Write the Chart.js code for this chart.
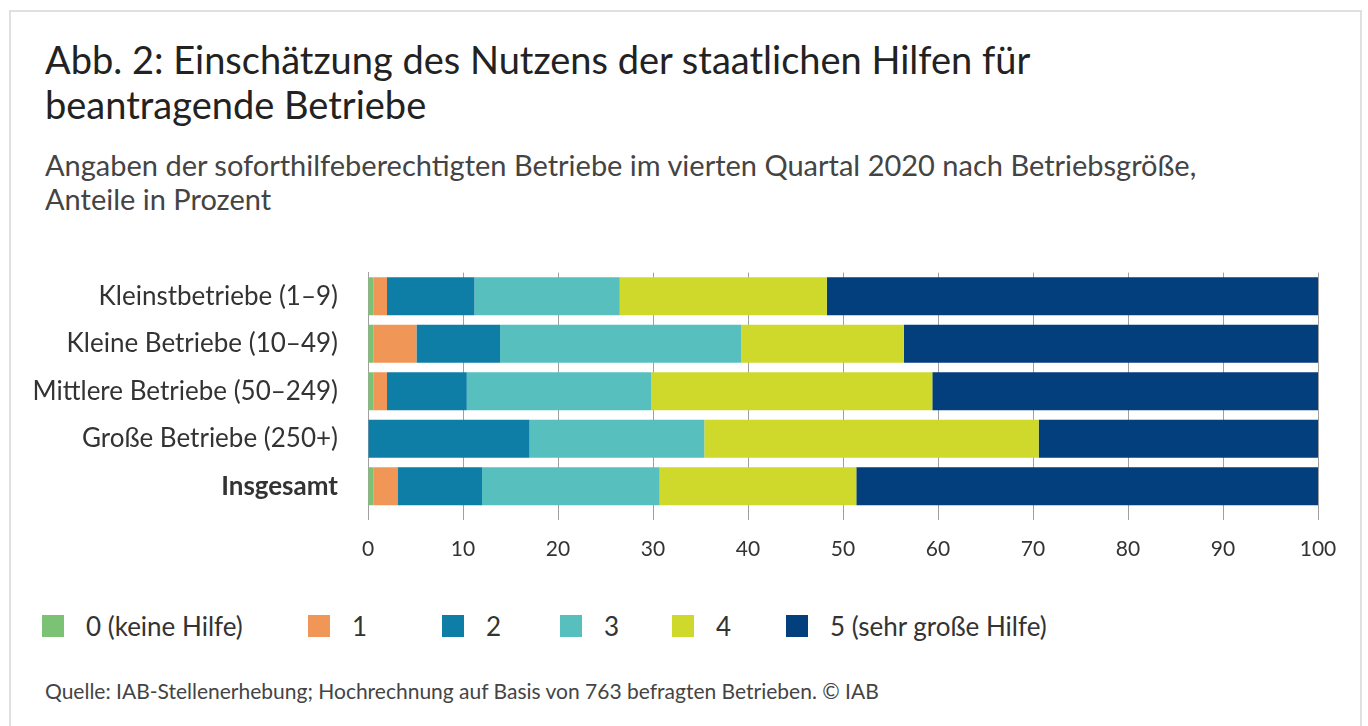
<!DOCTYPE html>
<html lang="de">
<head>
<meta charset="utf-8">
<title>Abb. 2: Einschätzung des Nutzens der staatlichen Hilfen</title>
<script src="https://cdn.jsdelivr.net/npm/chart.js@4.4.1/dist/chart.umd.min.js"></script>
<style>
  html, body { margin: 0; padding: 0; background: #fff; }
  body { width: 1368px; height: 726px; position: relative; overflow: hidden; font-family: Lato, "Noto Sans", sans-serif; color: #333; }
  #frame { position: absolute; left: 9px; top: 10px; width: 1353px; height: 740px; border: 2px solid #e0e0e0; box-sizing: border-box; }
  #title { position: absolute; left: 45px; top: 37px; font-size: 38px; line-height: 45px; color: #222; white-space: nowrap; }
  #subtitle { position: absolute; left: 45px; top: 148px; font-size: 29px; line-height: 34px; color: #444; white-space: nowrap; }
  #chartBox { position: absolute; left: 0; top: 227px; width: 1368px; height: 343px; }
  #legend { position: absolute; left: 42px; top: 611px; display: flex; font-size: 26px; color: #333; }
  .item { display: flex; align-items: center; height: 30px; }
  .box { width: 22px; height: 22px; margin-right: 22px; flex: none; }
  #source { position: absolute; left: 45px; top: 679px; font-size: 21px; line-height: 24px; color: #444; white-space: nowrap; }
</style>
</head>
<body>
<div id="frame"></div>
<div id="title">Abb. 2: Einschätzung des Nutzens der staatlichen Hilfen für<br>beantragende Betriebe</div>
<div id="subtitle">Angaben der soforthilfeberechtigten Betriebe im vierten Quartal 2020 nach Betriebsgröße,<br>Anteile in Prozent</div>
<div id="chartBox"><canvas id="chartCanvas"></canvas></div>
<div id="legend"></div>
<div id="source">Quelle: IAB-Stellenerhebung; Hochrechnung auf Basis von 763 befragten Betrieben. © IAB</div>

<script>
// categories (rows)
const categories = [
    'Kleinstbetriebe (1–9)',
    'Kleine Betriebe (10–49)',
    'Mittlere Betriebe (50–249)',
    'Große Betriebe (250+)',
    'Insgesamt'
];

// answer levels
const levels = ['0 (keine Hilfe)', '1', '2', '3', '4', '5 (sehr große Hilfe)'];

// shares in percent, one array per level, in category order
const level0 = [0.6, 0.6, 0.6, 0.0, 0.6];
const level1 = [1.4, 4.5, 1.4, 0.0, 2.5];
const level2 = [9.2, 8.8, 8.4, 17.0, 8.9];
const level3 = [15.3, 25.4, 19.4, 18.4, 18.7];
const level4 = [21.8, 17.1, 29.6, 35.2, 20.7];
const level5 = [51.7, 43.6, 40.6, 29.4, 48.6];

const xTicks = [0, 10, 20, 30, 40, 50, 60, 70, 80, 90, 100];

const colors = ['#7cc274', '#f09657', '#0e7ea7', '#57bfbe', '#cfd92b', '#033e7d'];
const legendWidths = [266, 134, 118, 112, 114, 300];

const series = [level0, level1, level2, level3, level4, level5];

const datasets = series.map((values, i) => ({
    label: levels[i],
    data: values,
    backgroundColor: colors[i],
    borderWidth: 0,
    categoryPercentage: 0.8,
    barPercentage: 1.0
}));

const ctx = document.getElementById('chartCanvas').getContext('2d');

const chart = new Chart(ctx, {
    type: 'bar',
    data: { labels: categories, datasets: datasets },
    options: {
        indexAxis: 'y',
        responsive: true,
        maintainAspectRatio: false,
        animation: false,
        layout: { padding: { top: 0, right: 50, left: 0, bottom: 0 } },
        plugins: {
            legend: { display: false },
            tooltip: { enabled: false }
        },
        scales: {
            x: {
                stacked: true,
                min: 0,
                max: 100,
                afterBuildTicks: (scale) => { scale.ticks = xTicks.map(v => ({ value: v })); },
                afterFit: (scale) => { scale.height = 60; },
                grid: {
                    color: '#a0a0a0',
                    lineWidth: 1,
                    drawTicks: true,
                    tickLength: 10
                },
                border: { display: false },
                ticks: {
                    padding: 17,
                    color: '#333',
                    font: { family: 'Lato', size: 21 }
                }
            },
            y: {
                stacked: true,
                afterFit: (scale) => { scale.width = 368; },
                grid: { display: false, drawTicks: false },
                border: { display: true, color: '#a0a0a0', width: 1 },
                ticks: {
                    padding: 30,
                    color: '#333',
                    font: (c) => ({
                        family: 'Lato',
                        size: 26,
                        weight: c.index === categories.length - 1 ? 'bold' : 'normal'
                    })
                }
            }
        }
    }
});

// legend built from the chart's datasets
const legendEl = document.getElementById('legend');
chart.data.datasets.forEach((ds, i) => {
    const item = document.createElement('div');
    item.className = 'item';
    item.style.width = legendWidths[i] + 'px';
    const box = document.createElement('span');
    box.className = 'box';
    box.style.background = ds.backgroundColor;
    const txt = document.createElement('span');
    txt.textContent = ds.label;
    item.appendChild(box);
    item.appendChild(txt);
    legendEl.appendChild(item);
});
</script>
</body>
</html>
